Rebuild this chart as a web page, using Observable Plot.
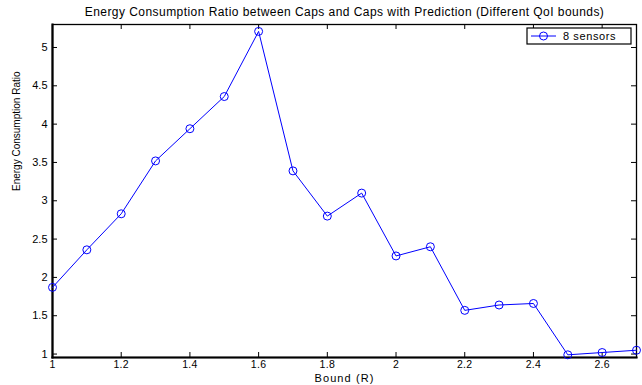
<!DOCTYPE html>
<html>
<head>
<meta charset="utf-8">
<script src="https://cdn.jsdelivr.net/npm/d3@7"></script>
<script src="https://cdn.jsdelivr.net/npm/@observablehq/plot@0.6"></script>
<style>
  html, body { margin: 0; padding: 0; background: #fff; }
  svg { font-family: "Liberation Sans", Arial, Helvetica, sans-serif; }
  .ttl text { letter-spacing: 0.45px; }
  .xlab text { letter-spacing: 1.1px; }
  .xax text { letter-spacing: 0.3px; }
</style>
</head>
<body>
<div id="chart"></div>
<script>
const bounds = [1.0, 1.1, 1.2, 1.3, 1.4, 1.5, 1.6, 1.7, 1.8, 1.9, 2.0, 2.1, 2.2, 2.3, 2.4, 2.5, 2.6, 2.7];
const ratios = [1.87, 2.36, 2.83, 3.52, 3.94, 4.36, 5.21, 3.39, 2.80, 3.10, 2.28, 2.40, 1.57, 1.64, 1.66, 0.99, 1.02, 1.05];
const xTicks = [1, 1.2, 1.4, 1.6, 1.8, 2, 2.2, 2.4, 2.6];
const yTicks = [1, 1.5, 2, 2.5, 3, 3.5, 4, 4.5, 5];
const seriesName = "8 sensors";
const titleText = "Energy Consumption Ratio between Caps and Caps with Prediction (Different QoI bounds)";
const xLabel = "Bound (R)";
const yLabel = "Energy Consumption Ratio";

const data = bounds.map((b, i) => ({x: b, y: ratios[i]}));

const W = 642, H = 385, mt = 24, mb = 28, ml = 52, mr = 6;
const innerH = H - mt - mb;
const tl = 5;
const blue = "#0000ff";

const chart = Plot.plot({
  width: W,
  height: H,
  marginTop: mt,
  marginBottom: mb,
  marginLeft: ml,
  marginRight: mr,
  style: {fontFamily: "'Liberation Sans', Arial, Helvetica, sans-serif", fontSize: "10px", color: "#000", background: "#fff"},
  x: {domain: [1, 2.7]},
  y: {domain: [0.955, 5.3]},
  marks: [
    Plot.axisX(xTicks, {anchor: "bottom", tickSize: 0, tickPadding: 3, tickFormat: d => String(d), fontSize: 10.5, label: null, className: "xax"}),
    Plot.axisY(yTicks, {anchor: "left", tickSize: 0, tickPadding: 5, tickFormat: d => String(d), fontSize: 11, label: null}),
    // inward ticks on all four sides
    Plot.tickX(xTicks, {x: d => d, insetTop: innerH - tl, stroke: "#000"}),
    Plot.tickX(xTicks, {x: d => d, insetBottom: innerH - tl, stroke: "#000"}),
    Plot.tickY(yTicks, {y: d => d, insetRight: (W - ml - mr) - tl, stroke: "#000"}),
    Plot.tickY(yTicks, {y: d => d, insetLeft: (W - ml - mr) - tl, stroke: "#000"}),
    Plot.frame({stroke: "#000", strokeWidth: 1.3}),
    Plot.frame({anchor: "left", stroke: "#000", strokeWidth: 2.2}),
    Plot.frame({anchor: "bottom", stroke: "#000", strokeWidth: 2.2}),
    Plot.line(data, {x: "x", y: "y", stroke: blue, strokeWidth: 1}),
    Plot.dot(data, {x: "x", y: "y", r: 4, stroke: blue, fill: "none", strokeWidth: 1}),
    Plot.text([titleText], {frameAnchor: "top", lineAnchor: "middle", dy: -12, fontSize: 12, fill: "#000", className: "ttl"}),
    Plot.text([xLabel], {frameAnchor: "bottom", lineAnchor: "middle", dy: 21, fontSize: 11, fill: "#000", className: "xlab"}),
    Plot.text([yLabel], {frameAnchor: "left", dx: -36, rotate: -90, fontSize: 10, fill: "#000"})
  ]
});

// legend box (MATLAB style) in the top-right corner of the axes
const svg = d3.select(chart);
const lw = 104, lh = 16;
const lx = W - mr - 5 - lw, ly = mt + 4;
const g = svg.append("g").attr("text-anchor", "start");
g.append("rect").attr("x", lx).attr("y", ly).attr("width", lw).attr("height", lh)
  .attr("fill", "#fff").attr("stroke", "#000").attr("stroke-width", 1.2);
g.append("line").attr("x1", lx + 4).attr("x2", lx + 29).attr("y1", ly + lh / 2).attr("y2", ly + lh / 2)
  .attr("stroke", blue).attr("stroke-width", 1);
g.append("circle").attr("cx", lx + 16.5).attr("cy", ly + lh / 2).attr("r", 4)
  .attr("fill", "none").attr("stroke", blue);
g.append("text").attr("x", lx + 36).attr("y", ly + lh / 2).attr("dy", "0.35em")
  .attr("text-anchor", "start")
  .attr("font-size", 11).attr("fill", "#000").style("letter-spacing", "0.6px").text(seriesName);

document.getElementById("chart").appendChild(chart);
</script>
</body>
</html>
